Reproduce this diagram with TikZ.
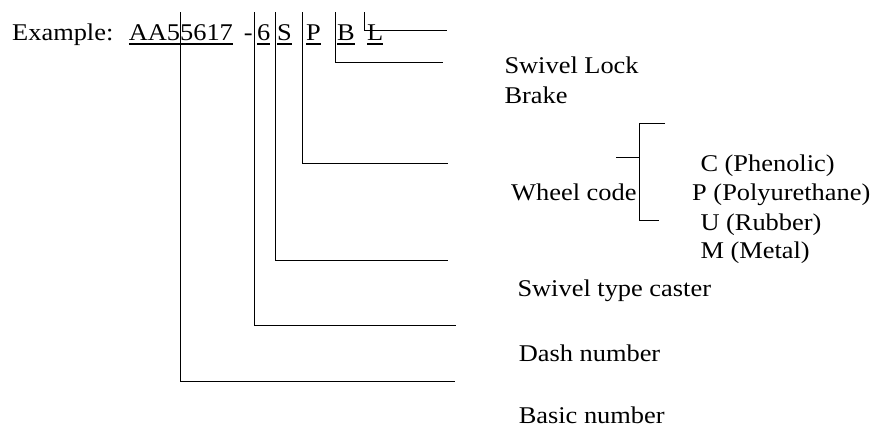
\documentclass[tikz,border=0pt]{standalone}
\usepackage{fontspec}
\setmainfont{Liberation Serif}[FakeStretch=1.1]

\newcommand{\partcode}[1]{\setbox0\hbox{#1}\rlap{\rule[-3.6pt]{\wd0}{1.3pt}}\box0}

\tikzset{every picture/.style={line width=0.75pt}}
\tikzset{lbl/.style={anchor=base west,inner sep=0pt,font=\fontsize{18}{22}\selectfont}}

\begin{document}
\begin{tikzpicture}[x=0.75pt,y=0.75pt,yscale=-1,xscale=1]
        \path (0,0) rectangle (875,429); %set diagram left start at 0, and has height of 429

        %Part number
        \node[lbl] (ex) at (11.7,40) {Example:};
        \node[lbl] (basic) at (128.3,40) {\partcode{AA55617}};
        \node[lbl] (sep) at (243.3,40) {-};
        \node[lbl] (dashno) at (256.7,40) {\partcode{6}};
        \node[lbl] (swv) at (276.7,40) {\partcode{S}};
        \node[lbl] (whl) at (305.7,40) {\partcode{P}};
        \node[lbl] (brk) at (336.7,40) {\partcode{B}};
        \node[lbl] (lck) at (366.7,40) {\partcode{L}};

        %Labels
        \node[lbl] (lock) at (504,73.3) {Swivel Lock};
        \node[lbl] (brake) at (504,103.3) {Brake};
        \node[lbl] (wheel) at (510.7,200.7) {Wheel code};
        \node[lbl] (matc) at (700,171) {C (Phenolic)};
        \node[lbl] (matp) at (691.7,200.7) {P (Polyurethane)};
        \node[lbl] (matu) at (700,230.7) {U (Rubber)};
        \node[lbl] (matm) at (700,258.3) {M (Metal)};
        \node[lbl] (swivel) at (517,296.7) {Swivel type caster};
        \node[lbl] (dash) at (518.3,361.7) {Dash number};
        \node[lbl] (basicno) at (518.3,423.3) {Basic number};

        %Line ends
        \coordinate (top) at (0,12);
        \coordinate (lockend) at (447,30.7);
        \coordinate (brakeend) at (443,62.3);
        \coordinate (wheelend) at (448,163.3);
        \coordinate (swivelend) at (448,260.3);
        \coordinate (dashend) at (455.7,325.3);
        \coordinate (basicend) at (455,381.3);

        %Connectors
        \draw (basic.center |- top) |- (basicend);
        \draw ([xshift=-1.3pt]dashno.west |- top) |- (dashend);
        \draw ([xshift=-1pt]swv.west |- top) |- (swivelend);
        \draw ([xshift=-2.5pt]whl.west |- top) |- (wheelend);
        \draw ([xshift=-1pt]brk.west |- top) |- (brakeend);
        \draw ([xshift=-1.5pt]lck.west |- top) |- (lockend);

        %Bracket
        \draw (665,123.3) -| (639,220) -- (659,220);
        \draw (616,157.7) -- (639,157.7);

        \end{tikzpicture}
\end{document}
